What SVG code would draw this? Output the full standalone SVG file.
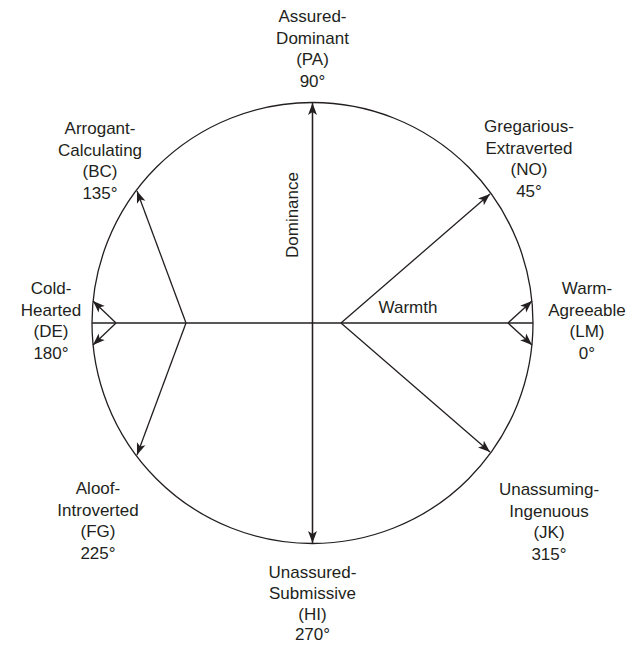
<svg xmlns="http://www.w3.org/2000/svg" width="637" height="645" viewBox="0 0 637 645">
<style>
.ln{stroke:#231f20;stroke-width:1.3;fill:none}
.ar{marker-end:url(#ah)}
text{font-family:"Liberation Sans",Arial,sans-serif;font-size:17px;fill:#231f20;text-anchor:middle}
</style>
<defs>
<marker id="ah" markerUnits="userSpaceOnUse" markerWidth="12" markerHeight="10" refX="12" refY="4.5" orient="auto" viewBox="0 0 12 9">
<path d="M0,0 L12,4.5 L0,9 L3,4.5 z" fill="#231f20"/>
</marker>
</defs>
<rect width="637" height="645" fill="#fff"/>
<g id="circle"><circle class="ln" cx="312.5" cy="323" r="220.5"/></g>
<g id="connectors">
<line class="ln" x1="92" y1="323" x2="533" y2="323"/>
<line class="ln ar" x1="312.5" y1="543" x2="312.5" y2="103"/>
<line class="ln ar" x1="312.5" y1="103" x2="312.5" y2="543"/>
<line class="ln ar" x1="116" y1="323" x2="93" y2="301"/>
<line class="ln ar" x1="116" y1="323" x2="93" y2="345"/>
<line class="ln ar" x1="508" y1="323" x2="532" y2="301"/>
<line class="ln ar" x1="508" y1="323" x2="532" y2="345"/>
<line class="ln ar" x1="186" y1="323" x2="137" y2="191"/>
<line class="ln ar" x1="186" y1="323" x2="137" y2="455"/>
<line class="ln ar" x1="341" y1="323" x2="490" y2="194"/>
<line class="ln ar" x1="341" y1="323" x2="490" y2="452"/>
</g>
<g id="axis-labels">
<text transform="translate(298,215) rotate(-90)">Dominance</text>
<text x="408" y="313">Warmth</text>
</g>
<g id="node-PA"><text x="312.5" y="22">Assured-</text><text x="312.5" y="44">Dominant</text><text x="312.5" y="65">(PA)</text><text x="312.5" y="87">90°</text></g>
<g id="node-BC"><text x="100" y="134">Arrogant-</text><text x="100" y="156">Calculating</text><text x="100" y="177">(BC)</text><text x="100" y="199">135°</text></g>
<g id="node-NO"><text x="529" y="132">Gregarious-</text><text x="529" y="154">Extraverted</text><text x="529" y="175">(NO)</text><text x="529" y="197">45°</text></g>
<g id="node-DE"><text x="51" y="294">Cold-</text><text x="51" y="316">Hearted</text><text x="51" y="337">(DE)</text><text x="51" y="359">180°</text></g>
<g id="node-LM"><text x="587" y="294">Warm-</text><text x="587" y="316">Agreeable</text><text x="587" y="337">(LM)</text><text x="587" y="359">0°</text></g>
<g id="node-FG"><text x="98" y="494">Aloof-</text><text x="98" y="516">Introverted</text><text x="98" y="537">(FG)</text><text x="98" y="559">225°</text></g>
<g id="node-JK"><text x="549" y="495">Unassuming-</text><text x="549" y="517">Ingenuous</text><text x="549" y="538">(JK)</text><text x="549" y="560">315°</text></g>
<g id="node-HI"><text x="312.5" y="578">Unassured-</text><text x="312.5" y="599">Submissive</text><text x="312.5" y="620">(HI)</text><text x="312.5" y="640">270°</text></g>
</svg>
